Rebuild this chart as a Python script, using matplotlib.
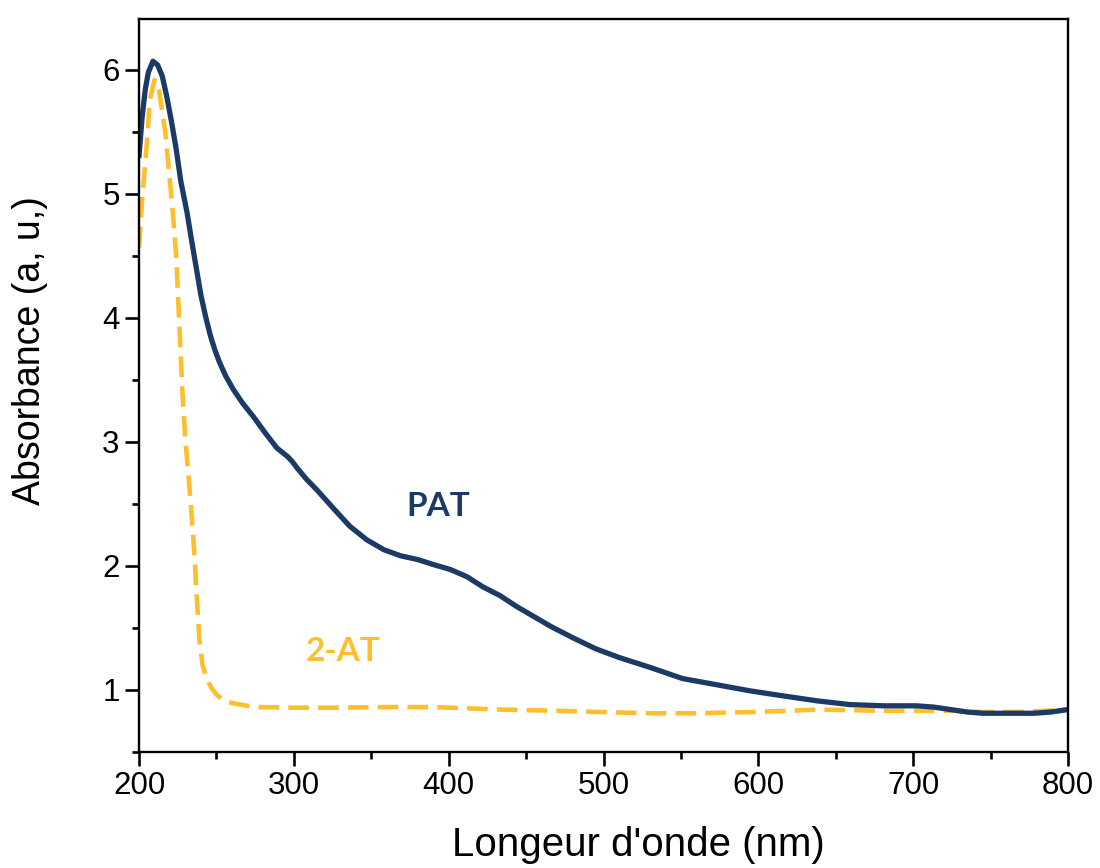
import matplotlib.pyplot as plt
from matplotlib.ticker import MultipleLocator

# PAT spectrum
pat_wl = [200, 202, 204, 206, 209, 212, 215, 218, 221, 224, 227, 231, 234, 237, 240,
          243, 246, 249, 252, 256, 261, 267, 274, 281, 289, 293, 296, 299, 302, 308, 315,
          325, 336, 347, 358, 369, 380, 390, 401, 412, 422, 433, 444, 455, 466, 480,
          495, 510, 530, 551, 573, 595, 616, 638, 659, 681, 702, 713, 724, 735, 745,
          756, 767, 778, 789, 800]
pat_abs = [5.31, 5.62, 5.84, 5.98, 6.07, 6.04, 5.95, 5.78, 5.58, 5.36, 5.10, 4.85, 4.62, 4.40, 4.18,
           4.01, 3.86, 3.74, 3.64, 3.53, 3.42, 3.31, 3.20, 3.08, 2.95, 2.91, 2.88, 2.84, 2.79, 2.70, 2.61,
           2.47, 2.32, 2.21, 2.13, 2.08, 2.05, 2.01, 1.97, 1.91, 1.83, 1.76, 1.67, 1.59, 1.51, 1.42,
           1.33, 1.26, 1.18, 1.09, 1.04, 0.99, 0.95, 0.91, 0.88, 0.87, 0.87, 0.86, 0.84, 0.82, 0.81,
           0.81, 0.81, 0.81, 0.82, 0.84]

# 2-AT spectrum
at_wl = [200, 202, 204, 205, 207, 210, 213, 217, 220, 222, 224, 226, 228, 230, 232,
         234, 236, 237, 239, 241, 244, 247, 250, 255, 261, 270, 278, 300, 325, 360,
         390, 433, 470, 498, 530, 560, 595, 620, 638, 660, 681, 703, 724, 745, 767,
         785, 800]
at_abs = [4.57, 4.95, 5.25, 5.40, 5.76, 5.92, 5.83, 5.49, 5.10, 4.82, 4.50, 3.95, 3.40, 3.00, 2.72,
          2.40, 2.05, 1.80, 1.40, 1.20, 1.08, 1.01, 0.96, 0.91, 0.89, 0.87, 0.86, 0.855, 0.855, 0.86,
          0.86, 0.84, 0.83, 0.82, 0.81, 0.81, 0.82, 0.83, 0.84, 0.835, 0.83, 0.83, 0.83, 0.82, 0.82,
          0.83, 0.84]

navy = '#1b3a66'
orange = '#fdbf2d'

plt.rcParams['font.family'] = ['Liberation Sans', 'DejaVu Sans']

fig = plt.figure(figsize=(11, 8.68), dpi=100)
ax = fig.add_axes([0.1264, 0.134, 0.8446, 0.844])

ax.plot(at_wl, at_abs, color=orange, linewidth=3.3, linestyle=(0, (4.5, 2.0)))
ax.plot(pat_wl, pat_abs, color=navy, linewidth=3.8, solid_joinstyle='round')

ax.text(393, 2.48, 'PAT', color=navy, fontsize=24, fontweight='bold',
        family=['Lato', 'DejaVu Sans'], ha='center', va='center')
ax.text(332, 1.31, '2-AT', color=orange, fontsize=24, fontweight='bold',
        family=['Lato', 'DejaVu Sans'], ha='center', va='center')

ax.set_xlim(200, 800)
ax.set_ylim(0.5, 6.41)
ax.xaxis.set_major_locator(MultipleLocator(100))
ax.xaxis.set_minor_locator(MultipleLocator(50))
ax.yaxis.set_major_locator(MultipleLocator(1))
ax.yaxis.set_minor_locator(MultipleLocator(0.5))
ax.set_yticks([1, 2, 3, 4, 5, 6])

for s in ax.spines.values():
    s.set_linewidth(1.7)
ax.tick_params(which='major', direction='out', length=10, width=1.9, labelsize=22.5, pad=4)
ax.tick_params(which='minor', direction='out', length=5, width=1.9)

fig.text(638 / 1100, 1 - 845 / 868, "Longeur d'onde (nm)", fontsize=29, ha='center', va='center')
fig.text(30 / 1100, 1 - 351 / 868, 'Absorbance (a, u,)', fontsize=27, rotation=90,
         ha='center', va='center')

fig.savefig('out.png', dpi=100)
